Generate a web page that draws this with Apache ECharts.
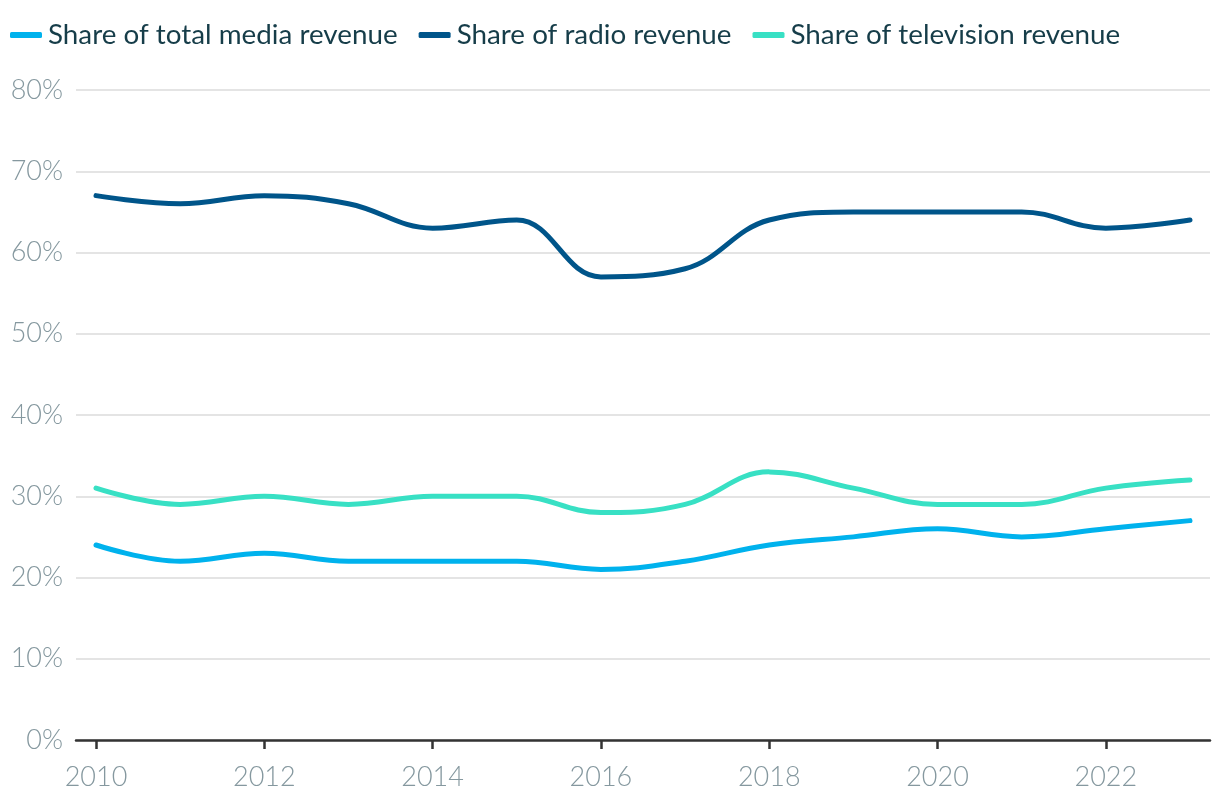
<!DOCTYPE html>
<html><head><meta charset="utf-8">
<script src="https://cdn.jsdelivr.net/npm/echarts@6/dist/echarts.min.js"></script>
<style>html,body{margin:0;padding:0;background:#fff}#c{width:1220px;height:808px}</style>
</head><body><div id="c"></div>
<script>
const years = [2010,2011,2012,2013,2014,2015,2016,2017,2018,2019,2020,2021,2022,2023];
const totalShare = [24,22,23,22,22,22,21,22,24,25,26,25,26,27];
const radioShare = [67,66,67,66,63,64,57,58,64,65,65,65,63,64];
const tvShare = [31,29,30,29,30,30,28,29,33,31,29,29,31,32];
const xTickYears = [2010,2012,2014,2016,2018,2020,2022];
const seriesNames = ['Share of total media revenue','Share of radio revenue','Share of television revenue'];
const colors = ['#00b2ed','#00558a','#38e0c4'];

const pairs = arr => years.map((y,i)=>[y,arr[i]]);
const chart = echarts.init(document.getElementById('c'));
const font = 'Lato, "Noto Sans", sans-serif';
chart.setOption({
  animation:false,
  color:colors,
  legend:{
    left:10, top:21, padding:0, itemWidth:32, itemHeight:6, itemGap:21,
    icon:'roundRect',
    textStyle:{fontFamily:font, fontSize:27.8, color:'#163d49', padding:[0,0,0,1]},
    data:seriesNames
  },
  grid:{left:76, right:10, top:90, bottom:68, containLabel:false},
  xAxis:{
    type:'value', min:2010-20/84.1, max:2023+20/84.1,
    axisLine:{show:true, lineStyle:{color:'#333', width:2.5}},
    axisTick:{show:true, customValues:xTickYears, length:9, lineStyle:{color:'#333', width:2.5}},
    axisLabel:{customValues:xTickYears, fontFamily:font, fontWeight:300, fontSize:27, color:'#85989f', margin:24, formatter:v=>String(v)},
    splitLine:{show:false}
  },
  yAxis:{
    type:'value', min:0, max:80, interval:10,
    axisLine:{show:false}, axisTick:{show:false},
    axisLabel:{fontFamily:font, fontWeight:300, fontSize:27, color:'#85989f', margin:13, formatter:'{value}%'},
    splitLine:{lineStyle:{color:'#e4e4e4', width:2}}
  },
  series:[
    {name:seriesNames[0], type:'line', data:pairs(totalShare), smooth:0.4, showSymbol:false, lineStyle:{width:5, cap:'round'}},
    {name:seriesNames[1], type:'line', data:pairs(radioShare), smooth:0.4, showSymbol:false, lineStyle:{width:5, cap:'round'}},
    {name:seriesNames[2], type:'line', data:pairs(tvShare), smooth:0.4, showSymbol:false, lineStyle:{width:5, cap:'round'}}
  ]
});
</script></body></html>
